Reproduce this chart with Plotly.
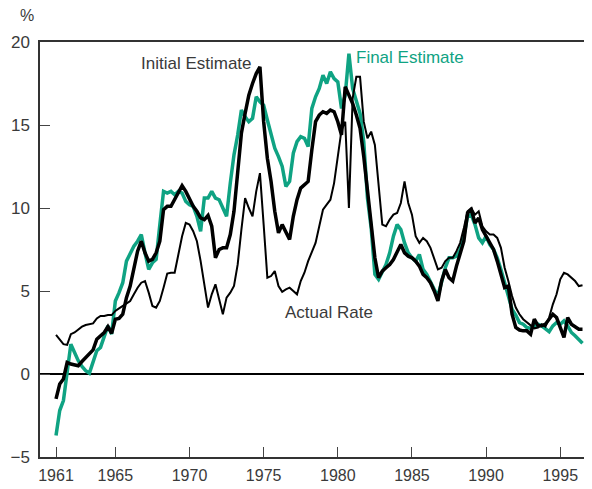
import plotly.graph_objects as go

# Quarterly observations, 1961Q1 .. 1996Q3
start_year = 1961
initial_estimate = [
    -1.5, -0.6, -0.3, 0.7,     # 1961
    0.6, 0.55, 0.5, 0.75,      # 1962
    1.0, 1.2, 1.45, 2.1,       # 1963
    2.3, 2.5, 2.85, 2.45,      # 1964
    3.3, 3.35, 3.6, 4.6,       # 1965
    5.3, 6.4, 7.4, 8.0,        # 1966
    7.3, 6.8, 6.9, 7.3,        # 1967
    8.0, 9.9, 10.1, 10.1,      # 1968
    10.5, 11.0, 11.35, 11.0,   # 1969
    10.5, 10.1, 9.8, 9.4,      # 1970
    9.3, 9.55, 8.9, 7.0,       # 1971
    7.5, 7.6, 7.6, 8.4,        # 1972
    9.8, 12.4, 14.5, 15.7,     # 1973
    16.8, 17.5, 18.1, 18.5,    # 1974
    15.2, 13.0, 11.6, 9.8,     # 1975
    8.5, 9.0, 8.5, 8.1,        # 1976
    9.5, 10.5, 11.2, 11.4,     # 1977
    11.6, 13.5, 15.2, 15.6,    # 1978
    15.8, 15.7, 15.9, 15.8,    # 1979
    15.2, 14.4, 17.3, 16.8,    # 1980
    16.3, 15.6, 14.8, 13.1,    # 1981
    11.0, 8.8, 7.0, 5.8,       # 1982
    6.2, 6.4, 6.6, 6.9,        # 1983
    7.3, 7.8, 7.3, 7.1,        # 1984
    7.0, 6.8, 6.5, 6.0,        # 1985
    5.8, 5.5, 5.0, 4.4,        # 1986
    5.6, 6.3, 5.8, 5.6,        # 1987
    6.5, 7.3, 8.0, 9.7,        # 1988
    9.9, 9.1, 9.4, 8.7,        # 1989
    8.3, 8.0, 7.5, 6.8,        # 1990
    6.0, 5.2, 5.3, 3.6,        # 1991
    2.8, 2.65, 2.6, 2.6,       # 1992
    2.4, 3.3, 2.9, 2.9,        # 1993
    3.0, 3.3, 3.6, 3.4,        # 1994
    2.8, 2.2, 3.4, 3.0,        # 1995
    2.85, 2.7, 2.7,            # 1996
]
final_estimate = [
    -3.7, -2.2, -1.6, 0.0,     # 1961
    1.8, 1.3, 0.8, 0.45,       # 1962
    0.2, 0.05, 0.8, 1.4,       # 1963
    1.6, 2.3, 2.9, 2.4,        # 1964
    4.4, 4.9, 5.5, 6.8,        # 1965
    7.3, 7.7, 8.0, 8.4,        # 1966
    7.3, 6.3, 6.7, 6.9,        # 1967
    9.0, 11.0, 10.9, 11.0,     # 1968
    10.8, 11.0, 10.9, 10.4,    # 1969
    10.2, 10.1, 9.5, 8.6,      # 1970
    10.6, 10.6, 11.0, 10.6,    # 1971
    10.5, 10.0, 9.5, 11.5,     # 1972
    13.2, 14.4, 15.9, 15.5,    # 1973
    15.2, 15.4, 16.7, 16.4,    # 1974
    16.2, 15.3, 14.5, 13.6,    # 1975
    13.1, 12.5, 11.3, 11.6,    # 1976
    13.3, 14.0, 14.3, 14.2,    # 1977
    13.7, 16.0, 16.7, 17.2,    # 1978
    18.0, 17.5, 18.2, 17.8,    # 1979
    17.6, 16.0, 16.8, 19.3,    # 1980
    17.2, 16.5, 15.7, 14.0,    # 1981
    10.6, 8.8, 6.0, 5.7,       # 1982
    6.2, 6.6, 7.3, 8.3,        # 1983
    9.0, 8.7, 7.9, 7.3,        # 1984
    7.0, 6.8, 7.2, 6.3,        # 1985
    6.0, 5.5, 5.1, 4.7,        # 1986
    5.5, 6.4, 7.0, 7.0,        # 1987
    7.1, 7.5, 8.3, 9.5,        # 1988
    9.6, 9.0, 8.2, 7.9,        # 1989
    8.3, 7.8, 7.5, 7.0,        # 1990
    6.3, 5.5, 4.6, 3.9,        # 1991
    3.55, 3.1, 3.0, 2.8,       # 1992
    2.75, 2.85, 3.0, 2.9,      # 1993
    2.7, 2.55, 2.9, 3.1,       # 1994
    3.0, 3.2, 2.9, 2.5,        # 1995
    2.3, 2.1, 1.85,            # 1996
]
actual_rate = [
    2.35, 2.05, 1.8, 1.75,     # 1961
    2.4, 2.5, 2.7, 2.85,       # 1962
    2.95, 3.0, 3.05, 3.35,     # 1963
    3.5, 3.5, 3.55, 3.55,      # 1964
    3.8, 3.95, 4.1, 4.25,      # 1965
    4.4, 4.8, 5.2, 5.5,        # 1966
    5.6, 4.9, 4.1, 4.0,        # 1967
    4.4, 5.2, 6.05, 6.1,       # 1968
    6.1, 7.2, 8.3, 9.1,        # 1969
    9.0, 8.6, 8.0, 6.8,        # 1970
    5.5, 4.0, 4.8, 5.4,        # 1971
    4.5, 3.6, 4.6, 4.9,        # 1972
    5.3, 6.6, 8.7, 10.6,       # 1973
    10.0, 9.5, 11.0, 12.1,     # 1974
    9.0, 5.8, 5.9, 6.2,        # 1975
    5.3, 4.95, 5.1, 5.2,       # 1976
    5.0, 4.8, 5.6, 6.1,        # 1977
    6.8, 7.3, 7.9, 8.9,        # 1978
    9.9, 10.2, 10.5, 11.5,     # 1979
    13.2, 14.7, 15.2, 10.0,    # 1980
    16.6, 17.9, 17.9, 15.2,    # 1981
    14.2, 14.6, 13.8, 11.2,    # 1982
    9.0, 8.9, 9.3, 9.6,        # 1983
    9.7, 10.3, 11.6, 10.3,     # 1984
    9.6, 8.3, 7.9, 8.2,        # 1985
    8.0, 7.6, 6.9, 6.3,        # 1986
    6.4, 6.8, 7.0, 7.0,        # 1987
    7.4, 7.9, 8.8, 9.8,        # 1988
    10.0, 9.6, 9.8, 8.9,       # 1989
    8.6, 8.4, 8.4, 8.2,        # 1990
    7.6, 6.4, 5.6, 4.7,        # 1991
    4.0, 3.6, 3.3, 3.1,        # 1992
    2.9, 2.75, 2.8, 3.0,       # 1993
    2.85, 3.4, 4.2, 4.8,       # 1994
    5.7, 6.1, 6.0, 5.8,        # 1995
    5.6, 5.3, 5.35,            # 1996
]
year_ticks = [1961, 1965, 1970, 1975, 1980, 1985, 1990, 1995]
value_ticks = [-5, 0, 5, 10, 15, 20]

dates = [start_year + i / 4 for i in range(len(initial_estimate))]

FONT = "Liberation Sans, Arial, sans-serif"
TEAL = "#0fa383"
TXT = "#3a3a3a"

fig = go.Figure()
fig.add_trace(go.Scatter(x=dates, y=final_estimate, mode="lines",
                         line=dict(color=TEAL, width=3.5), showlegend=False))
fig.add_trace(go.Scatter(x=dates, y=actual_rate, mode="lines",
                         line=dict(color="black", width=2), showlegend=False))
fig.add_trace(go.Scatter(x=dates, y=initial_estimate, mode="lines",
                         line=dict(color="black", width=3.5), showlegend=False))
# invisible trace to carry the right-hand tick marks
fig.add_trace(go.Scatter(x=[dates[0]], y=[0], yaxis="y2", mode="markers",
                         marker=dict(opacity=0), showlegend=False, hoverinfo="skip"))

fig.update_layout(
    width=584, height=481,
    margin=dict(l=32, r=0, t=34, b=32),
    paper_bgcolor="white", plot_bgcolor="white",
    font=dict(family=FONT, size=16, color=TXT),
    xaxis=dict(range=[1959.92, 1997.14], tickvals=year_ticks,
               ticktext=[str(v) for v in year_ticks],
               ticks="inside", ticklen=10, tickcolor="#444", tickwidth=1,
               ticklabelstandoff=3,
               showline=True, linecolor="#333", linewidth=1.5, mirror=True,
               showgrid=False, zeroline=False,
               tickfont=dict(family=FONT, size=16, color=TXT)),
    yaxis=dict(range=[-5, 20], tickvals=value_ticks,
               ticks="inside", ticklen=10, tickcolor="#444", tickwidth=1,
               ticklabelstandoff=5,
               showline=True, linecolor="#333", linewidth=1.5,
               showgrid=False, zeroline=True, zerolinecolor="black", zerolinewidth=1.5,
               tickfont=dict(family=FONT, size=17, color=TXT)),
    yaxis2=dict(range=[-5, 20], tickvals=value_ticks, overlaying="y", side="right",
                ticks="inside", ticklen=2, tickcolor="#444", showticklabels=False,
                showline=False, showgrid=False, zeroline=False),
    annotations=[
        dict(text="%", xref="paper", yref="paper", x=-0.024, y=1.065,
             xanchor="center", yanchor="middle",
             showarrow=False, font=dict(family=FONT, size=16, color=TXT)),
        dict(text="Initial Estimate", x=1970.44, y=18.73, xref="x", yref="y",
             showarrow=False, font=dict(family=FONT, size=17, color=TXT)),
        dict(text="Final Estimate", x=1984.9, y=19.04, xref="x", yref="y",
             showarrow=False, font=dict(family=FONT, size=17, color=TEAL)),
        dict(text="Actual Rate", x=1979.41, y=3.73, xref="x", yref="y",
             showarrow=False, font=dict(family=FONT, size=17, color=TXT)),
    ],
)

fig.write_html("out.html")
